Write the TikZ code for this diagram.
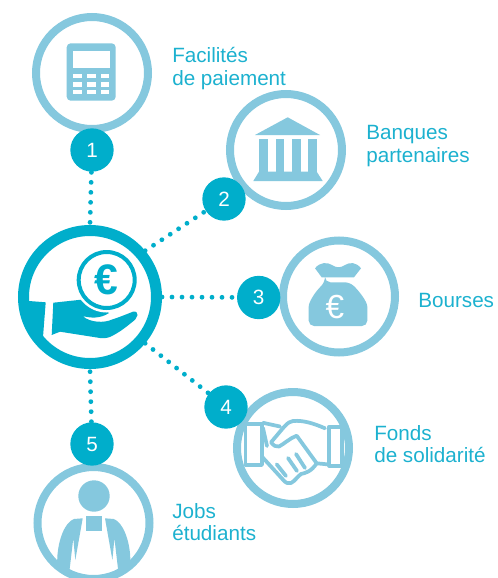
\documentclass[tikz,border=0pt]{standalone}
\usepackage{fontspec}
\setmainfont{Liberation Sans}
\definecolor{ringc}{HTML}{85C8DE}
\definecolor{tealc}{HTML}{00AECB}
\definecolor{labelc}{HTML}{1CB1CF}
\pgfdeclarelayer{bg}
\pgfsetlayers{bg,main}
\tikzset{
  ringnode/.style={circle,draw=ringc,fill=white,line width=6pt,minimum size=84pt,inner sep=0pt},
  hubnode/.style={circle,draw=tealc,fill=white,line width=8.25pt,minimum size=99.75pt,inner sep=0pt},
  coinnode/.style={circle,draw=tealc,fill=white,line width=3pt,minimum size=42pt,inner sep=0pt,text=tealc,font=\fontsize{32}{32}\selectfont\bfseries},
  badge/.style={circle,fill=tealc,minimum size=32.5pt,inner sep=0pt,text=white,font=\fontsize{15.5}{16}\selectfont},
  dotline/.style={tealc,line width=3.6pt,line cap=round,dash pattern=on 0pt off 7.5pt},
  caption/.style={text=labelc,font=\fontsize{15.5}{17}\selectfont,align=left,anchor=west,inner sep=0pt},
  iconline/.style={draw=ringc,line width=2.8pt,line join=round,line cap=round},
}
\begin{document}
\begin{tikzpicture}[x=0.75pt,y=-0.75pt]
\useasboundingbox (0,0) rectangle (497,578);
\clip (0,0) rectangle (497,578);
% rings
\node[ringnode] (r1) at (92,73) {};
\node[ringnode] (r2) at (286,150) {};
\node[ringnode] (r3) at (339,296.5) {};
\node[ringnode] (r4) at (293,448) {};
\node[ringnode] (r5) at (93.5,523) {};
\node[hubnode] (hub) at (90,297) {};
% badges
\node[badge] (b1) at (92,150) {1};
\node[badge] (b2) at (224,199) {2};
\node[badge] (b3) at (258.7,297.5) {3};
\node[badge] (b4) at (226,407) {4};
\node[badge] (b5) at (92,444) {5};
% connectors
\begin{pgfonlayer}{bg}
\draw[dotline,dash phase=5.5pt] (hub.north) -- (b1);
\draw[dotline] (hub.40) -- (b2);
\draw[dotline] (hub.east) -- (b3);
\draw[dotline] (hub.-40) -- (b4);
\draw[dotline,dash phase=5.5pt] (hub.south) -- (b5);
\end{pgfonlayer}
% calculator
\fill[ringc,rounded corners=3pt] (66.7,43.3) rectangle (115.7,100.7);
\fill[white] (73.3,50.7) rectangle (110,68.3);
\foreach \yy/\yz in {74/78.3,82.3/86.7,90/94}
  \foreach \xx/\xz in {73.3/82.3,87.3/96,101/109.3}
    \fill[white] (\xx,\yy) rectangle (\xz,\yz);
% bank
\fill[ringc] (287.7,117.3) -- (320,135) -- (255,135) -- cycle;
\foreach \xx/\xz in {259/268.3,275.7/284.3,292.3/300.7,308.3/316.7}
  \fill[ringc] (\xx,139) rectangle (\xz,172);
\fill[ringc] (259,171.7) -- (316.7,171.7) -- (322.7,181) -- (253.3,181) -- cycle;
% money bag
\fill[ringc] (315,268.3) .. controls (320,262) and (327,262) .. (332,265) .. controls (336,268) and (341,268) .. (345,265) .. controls (350,262) and (356,262) .. (361,268.3) -- (354,277.3) -- (321.7,277.3) -- cycle;
\fill[ringc,rounded corners=4pt] (325,282.3) -- (350,282.3) .. controls (360,292) and (367.3,302) .. (367.3,312) -- (367.3,326) -- (308.7,326) -- (308.7,312) .. controls (308.7,302) and (315,292) .. (325,282.3) -- cycle;
\node[text=white,font=\fontsize{25}{25}\selectfont,inner sep=0pt] (bagEuro) at (335,306.7) {€};
% handshake
\fill[white] (246.7,425) rectangle (261,464.3);
\draw[iconline] (245.5,424) rectangle (262,465);
\draw[iconline,fill=white] (329.3,426.7) rectangle (342,465.7);
\draw[iconline] (263,422.8) -- (280,426.5);
\draw[iconline] (263,428) -- (267,446);
\draw[iconline] (325,428.3) .. controls (315,424) and (304,420) .. (293,421) .. controls (287,422) and (285,426) .. (271,442.3) .. controls (274,446) and (276,447) .. (279,446.5) .. controls (284,444) and (290,438) .. (296.7,435.7) -- (316.7,463.3) -- (327,464.3);
\draw[iconline] (262,456.7) -- (283.3,480) .. controls (286,483) and (288,484) .. (291,483) .. controls (295,481) and (297,477) .. (301,474) .. controls (305,473) and (311,472) .. (316.7,463.3);
\draw[iconline] (276.7,464.3) -- (286,476);
\draw[iconline] (288,458) -- (297,471);
\draw[iconline] (296,454) -- (305,468);
% person
\fill[ringc] (94,496) circle (15.7);
\fill[ringc] (85.7,516) rectangle (101.7,530.7);
\fill[ringc] (82.7,518.3) -- (74,519) .. controls (65,522) and (58,540) .. (57.3,558) -- (57,566) -- (69.3,572) -- (73.3,538.3) -- (75.3,560) -- cycle;
\fill[ringc] (105,518.3) -- (113.7,519) .. controls (122.7,522) and (129.7,540) .. (130.3,558) -- (130.7,566) -- (118.4,572) -- (114.4,538.3) -- (112.4,560) -- cycle;
% hub hand
\fill[tealc] (25,300.7) -- (45.7,302.3) -- (43,337) -- (35,335) -- (25,320) -- cycle;
\fill[tealc] (53.3,302.7) -- (83,299.5) -- (95,300) -- (109,313) .. controls (100,319) and (90,318) .. (82.7,316) .. controls (90,323) and (105,323) .. (112,319.5) .. controls (120,317) and (127,314) .. (133,311.7) .. controls (136,311) and (138,313) .. (137.5,315) .. controls (137,318) and (135,320) .. (131,323) .. controls (125,328) and (118,333) .. (112,336) .. controls (108,338) and (105,338.5) .. (100,338) -- (60,331.7) -- (51.7,335) -- cycle;
\fill[white] (106.7,280) circle (32.5);
\node[coinnode] (coin) at (106.7,280) {€};
% labels
\node[caption] (t1) at (172,68.5) {Facilités\\de paiement};
\node[caption] (t2) at (366,146) {Banques\\partenaires};
\node[caption] (t3) at (418,300) {Bourses};
\node[caption] (t4) at (374,444) {Fonds\\de solidarité};
\node[caption] (t5) at (172,522) {Jobs\\étudiants};
\end{tikzpicture}
\end{document}
